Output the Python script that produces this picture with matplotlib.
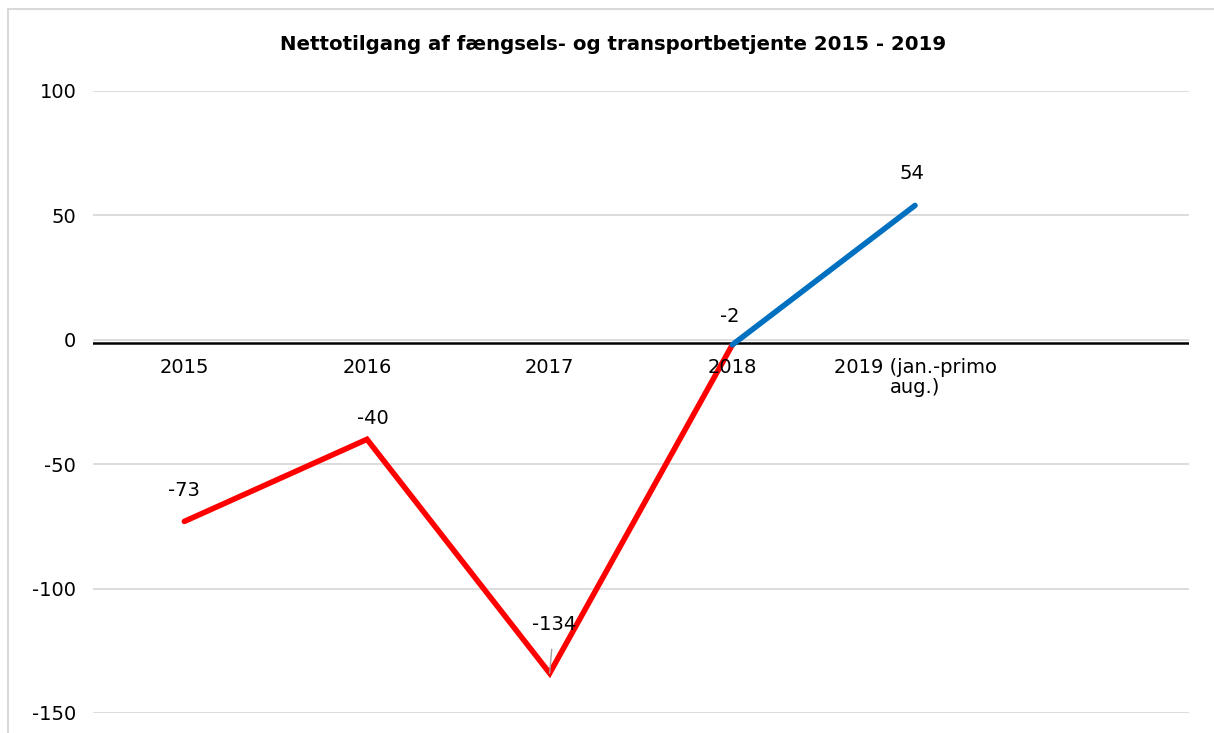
import matplotlib.pyplot as plt
import matplotlib.transforms as mtransforms
from matplotlib.patches import Rectangle

# Data
kategorier = ["2015", "2016", "2017", "2018", "2019 (jan.-primo\naug.)", ""]
vaerdier_roed = [-73, -40, -134, -2]
vaerdier_blaa = [-2, 54]
etiketter = ["-73", "-40", "-134", "-2", "54"]
yticks = [-150, -100, -50, 0, 50, 100]

ROED = "#FF0000"
BLAA = "#0070C0"

plt.rcParams["font.family"] = ["DejaVu Sans"]

fig = plt.figure(figsize=(12.14, 7.33), dpi=100)
ax = fig.add_axes([93 / 1214, 1 - 713 / 733, (1189 - 93) / 1214, (713 - 91) / 733])

# grid
for v in yticks:
    ax.axhline(v, color="#d9d9d9", lw=1.3, zorder=0)
# sort akselinje lidt under gitterlinjen ved 0
akse = ax.axhline(0, color="black", lw=1.8, zorder=1)
akse.set_transform(akse.get_transform() +
                   mtransforms.ScaledTranslation(0, -3 / 100, fig.dpi_scale_trans))

x_roed = list(range(len(vaerdier_roed)))
x_blaa = [3, 4]
ax.plot(x_roed, vaerdier_roed, color=ROED, lw=4, solid_capstyle="round",
        solid_joinstyle="miter", zorder=3)
ax.plot(x_blaa, vaerdier_blaa, color=BLAA, lw=4, solid_capstyle="round", zorder=3)

# datalabels
alle = vaerdier_roed + vaerdier_blaa[1:]
offsets = [(0, 22), (4, 15), (3, 35), (-2, 20), (-2, 23)]
for i, (v, lab) in enumerate(zip(alle, etiketter)):
    if lab == "-134":
        ax.annotate(lab, (i, v), xytext=offsets[i], textcoords="offset points",
                    ha="center", va="center", fontsize=14,
                    arrowprops=dict(arrowstyle="-", color="#a0a0a0", lw=1,
                                    shrinkA=9, shrinkB=0))
    else:
        ax.annotate(lab, (i, v), xytext=offsets[i], textcoords="offset points",
                    ha="center", va="center", fontsize=14)

# category labels under zero line
for i, k in enumerate(kategorier):
    ax.annotate(k, (i, 0), xytext=(0, -13), textcoords="offset points",
                ha="center", va="top", fontsize=14, linespacing=1.1)

ax.set_xlim(-0.5, 5.5)
ax.set_ylim(-150, 100)
ax.set_yticks(yticks)
ax.set_yticklabels([str(v) for v in yticks], fontsize=14)
ax.tick_params(axis="y", length=0, pad=12)
ax.set_xticks([])
for s in ax.spines.values():
    s.set_visible(False)

fig.text(613 / 1214, 1 - 45 / 733, "Nettotilgang af fængsels- og transportbetjente 2015 - 2019",
         ha="center", va="center", fontsize=14.2, fontweight="bold")

# chart border
fig.patches.append(Rectangle((8 / 1214, -0.05), 1.2, 1 - 9 / 733 + 0.05,
                             transform=fig.transFigure, fill=False,
                             edgecolor="#d9d9d9", lw=1.5))

fig.savefig("out.png", dpi=100)
